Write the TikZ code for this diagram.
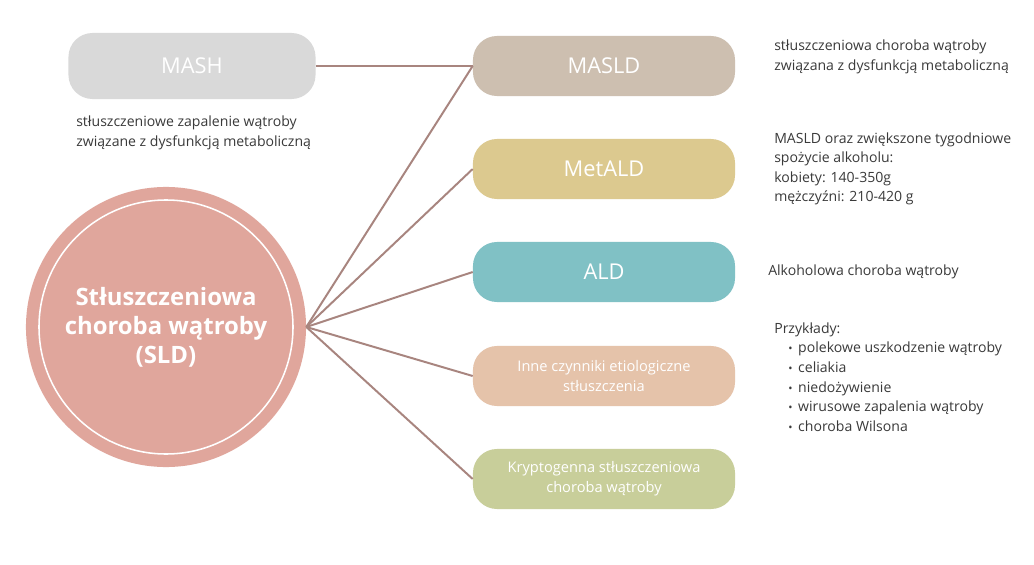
\documentclass[tikz,border=0pt]{standalone}
\usepackage{fontspec}
\setmainfont{Open Sans}
\usetikzlibrary{positioning}

\definecolor{linkbrown}{HTML}{A8857F}
\definecolor{sldpink}{HTML}{E0A69C}
\definecolor{mashgrey}{HTML}{D9D9D9}
\definecolor{masldtan}{HTML}{CDBFB0}
\definecolor{metaldyellow}{HTML}{DCC98F}
\definecolor{aldteal}{HTML}{80C1C5}
\definecolor{innepeach}{HTML}{E5C3AA}
\definecolor{kryptogreen}{HTML}{C8CE9A}
\definecolor{desctext}{HTML}{3A3A3A}

\newcommand{\listitem}{\hspace*{10pt}{\footnotesize\textbullet}\hspace{4pt}}

\tikzset{
    pill/.style={rounded corners=0.6cm,minimum width=6.55cm,minimum height=1.5cm,
        text=white,align=center,inner sep=0pt},
    bigtext/.style={font=\fontsize{15.5}{18}\selectfont},
    smalltext/.style={font=\fontsize{10.4}{14.2}\selectfont},
    desc/.style={anchor=west,align=left,text=desctext,inner sep=0pt,
        font=\fontsize{10}{13.9}\selectfont},
    link/.style={draw=linkbrown,line width=1.4pt}
}

\begin{document}
\begin{tikzpicture}[x=0.025cm,y=-0.025cm]
    \useasboundingbox[fill=white] (0,0) rectangle (1034,565);
    % central circle
    \node[circle,fill=sldpink,minimum size=7cm,inner sep=0pt,text=white,align=center,
        font=\fontsize{17}{20.5}\selectfont\bfseries] (sld) at (166,327)
        {Stłuszczeniowa\\choroba wątroby\\(SLD)};
    \draw[white,line width=1.1pt] (sld.center) circle (127);
    % boxes
    \node[pill,fill=mashgrey,bigtext,minimum width=6.175cm,minimum height=1.65cm] (mash) at (192,66) {MASH};
    \node[pill,fill=masldtan,bigtext] (masld) at (604,66) {MASLD};
    \node[pill,fill=metaldyellow,bigtext] (metald) at (604,169) {MetALD};
    \node[pill,fill=aldteal,bigtext] (ald) at (604,272) {ALD};
    \node[pill,fill=innepeach,smalltext] (inne) at (604,376) {Inne czynniki etiologiczne\\stłuszczenia};
    \node[pill,fill=kryptogreen,smalltext] (krypto) at (604,479) {Kryptogenna stłuszczeniowa\\choroba wątroby};
    % connectors
    \draw[link] (mash.east) -- (masld.west);
    \foreach \n in {masld,metald,ald,inne,krypto}
        \draw[link] (sld.east) -- (\n.west);
    % descriptions
    \node[desc] (mashdesc) at (76,133) {stłuszczeniowe zapalenie wątroby\\związane z dysfunkcją metaboliczną};
    \node[desc] (poldesc) at (774,57) {stłuszczeniowa choroba wątroby\\związana z dysfunkcją metaboliczną};
    \node[desc] (metdesc) at (774,169) {MASLD oraz zwiększone tygodniowe\\spożycie alkoholu:\\kobiety: 140-350g\\mężczyźni: 210-420 g};
    \node[desc] (alddesc) at (768,272) {Alkoholowa choroba wątroby};
    \node[desc] (innedesc) at (774,377) {Przykłady:\\
        \listitem polekowe uszkodzenie wątroby\\
        \listitem celiakia\\
        \listitem niedożywienie\\
        \listitem wirusowe zapalenia wątroby\\
        \listitem choroba Wilsona};
\end{tikzpicture}
\end{document}
